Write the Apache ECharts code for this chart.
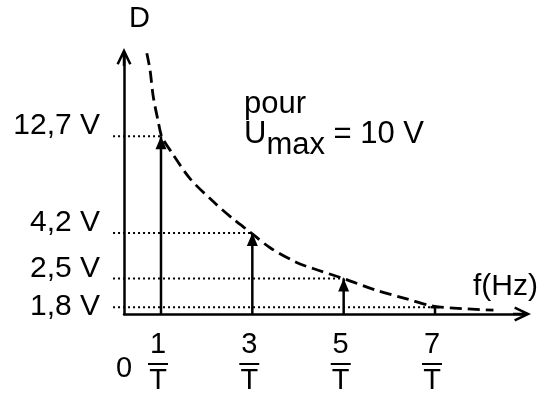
<!DOCTYPE html>
<html>
<head>
<meta charset="utf-8">
<script src="https://cdn.jsdelivr.net/npm/echarts@6/dist/echarts.min.js"></script>
<style>
html,body{margin:0;padding:0;background:#fff;}
#chart{width:559px;height:396px;}
</style>
</head>
<body>
<div id="chart"></div>
<script>
// ---- data ----
const harmonicF = [1, 3, 5, 7];               // harmonic frequency (multiples of 1/T)
const amplitudes = [12.7, 4.2, 2.5, 1.8];     // D values (V)
const ampLabels = ['12,7 V', '4,2 V', '2,5 V', '1,8 V'];
const xNumerators = ['1', '3', '5', '7'];
const xDenominator = 'T';
const originLabel = '0';
const yName = 'D';
const xName = 'f(Hz)';
const noteWord = 'pour';
const noteSymbol = 'U';
const noteSub = 'max';
const noteValue = ' = 10 V';
// envelope (dashed curve)
const curveF = [0.69, 0.76, 0.83, 0.94, 1.02, 1.24, 1.64, 2.15, 2.55, 2.95, 3.39, 3.97, 4.33, 4.99, 5.72, 6.38, 6.96, 7.61, 8.28];
const curveD = [32.8, 27.1, 20.0, 15.0, 12.6, 10.5, 7.8, 6.0, 5.0, 4.25, 3.55, 3.0, 2.8, 2.5, 2.18, 1.98, 1.82, 1.77, 1.74];

// ---- axis ranges ----
const xMin = 0.19, xMax = 8.905;
const yMin = 1.665, yMax = 31.4;
const guideStartF = -0.05;

const FONT = 'Liberation Sans';
const chevron = 'path://M7.5,0 L15,15.8 L12.74,16.87 L8.75,8.46 L8.75,18 L6.25,18 L6.25,8.46 L2.26,16.87 L0,15.8 Z';

const series = [];
series.push({
  type: 'line',
  data: curveF.map((f, i) => [f, curveD[i]]),
  smooth: 0.3,
  showSymbol: false,
  symbol: 'none',
  clip: false,
  z: 2,
  lineStyle: { color: '#000', width: 2.8, type: [12, 6] }
});
// dotted guide lines + value labels
series.push({
  type: 'custom',
  clip: false,
  z: 3,
  data: harmonicF.map((f, i) => [f, amplitudes[i], i]),
  renderItem: function (params, api) {
    const f = api.value(0), v = api.value(1), i = api.value(2);
    const pEnd = api.coord([f, v]);
    const pAxis = api.coord([xMin, v]);
    const ext = api.size([xMin - guideStartF, 0], [f, v])[0];
    const x1 = pAxis[0] - ext;
    return {
      type: 'group',
      children: [
        { type: 'line', shape: { x1: x1, y1: pEnd[1], x2: pEnd[0], y2: pEnd[1] },
          style: { stroke: '#000', lineWidth: 2, lineDash: [2, 3] } },
        { type: 'text', x: x1 - 13, y: pEnd[1] + (i < 3 ? -10 : 0),
          style: { text: ampLabels[i], fontFamily: FONT, fontSize: 30, fill: '#000',
                   align: 'right', verticalAlign: 'middle' } }
      ]
    };
  }
});
harmonicF.forEach((f, i) => {
  const isLast = i === harmonicF.length - 1;
  series.push({
    type: 'line',
    clip: false,
    z: 5,
    lineStyle: { color: '#000', width: 2.5 },
    itemStyle: { color: '#000' },
    data: [
      { value: [f, yMin], symbol: 'none' },
      isLast
        ? { value: [f, amplitudes[i]], symbol: 'rect', symbolSize: [9, 2.5] }
        : { value: [f, amplitudes[i]], symbol: 'triangle', symbolSize: [11, 13], symbolOffset: [0, '50%'] }
    ]
  });
});

const chart = echarts.init(document.getElementById('chart'));
chart.setOption({
  animation: false,
  backgroundColor: '#fff',
  title: [{
    left: 244, top: 89, padding: 0,
    text: '{a|' + noteWord + '}\n{a|' + noteSymbol + '}{s|' + noteSub + '}{a|' + noteValue + '}',
    textStyle: {
      fontWeight: 'normal',
      rich: {
        a: { fontFamily: FONT, fontSize: 31, fontWeight: 'normal', color: '#000', lineHeight: 30, verticalAlign: 'top' },
        s: { fontFamily: FONT, fontSize: 31, fontWeight: 'normal', color: '#000', lineHeight: 42, verticalAlign: 'bottom' }
      }
    }
  }, {
    left: 473, top: 272, padding: 0,
    text: xName,
    textStyle: { fontFamily: FONT, fontSize: 30, fontWeight: 'normal', color: '#000', lineHeight: 30 }
  }],
  grid: { left: 124, top: 57, right: 37, bottom: 82 },
  xAxis: {
    type: 'value', min: xMin, max: xMax,
    axisLine: { show: true, onZero: false, symbol: ['none', chevron], symbolSize: [15, 18],
                lineStyle: { color: '#000', width: 2.5 } },
    axisTick: { show: false },
    splitLine: { show: false },
    axisLabel: {
      show: true, margin: 22,
      customValues: [xMin].concat(harmonicF),
      formatter: function (v) {
        const i = harmonicF.indexOf(v);
        if (i >= 0) return '{n|' + xNumerators[i] + '}\n{b|\u2014}\n{n|' + xDenominator + '}';
        return '{z|' + originLabel + '}';
      },
      rich: {
        n: { fontFamily: FONT, fontSize: 29, color: '#000', lineHeight: 18, padding: [0, 6, 0, 0] },
        b: { fontFamily: FONT, fontSize: 20, fontWeight: 'bold', color: '#000', lineHeight: 18, padding: [0, 6, 0, 0] },
        z: { fontFamily: FONT, fontSize: 29, color: '#000', lineHeight: 65 }
      }
    }
  },
  yAxis: {
    type: 'log', min: yMin, max: yMax,
    name: yName, nameLocation: 'end', nameGap: 24,
    nameTextStyle: { fontFamily: FONT, fontSize: 29, color: '#000', padding: [0, 0, 0, 31] },
    axisLine: { show: true, onZero: false, symbol: ['none', chevron], symbolSize: [15, 18],
                lineStyle: { color: '#000', width: 2.5 } },
    axisTick: { show: false },
    axisLabel: { show: false },
    splitLine: { show: false }
  },
  series: series
});
</script>
</body>
</html>
